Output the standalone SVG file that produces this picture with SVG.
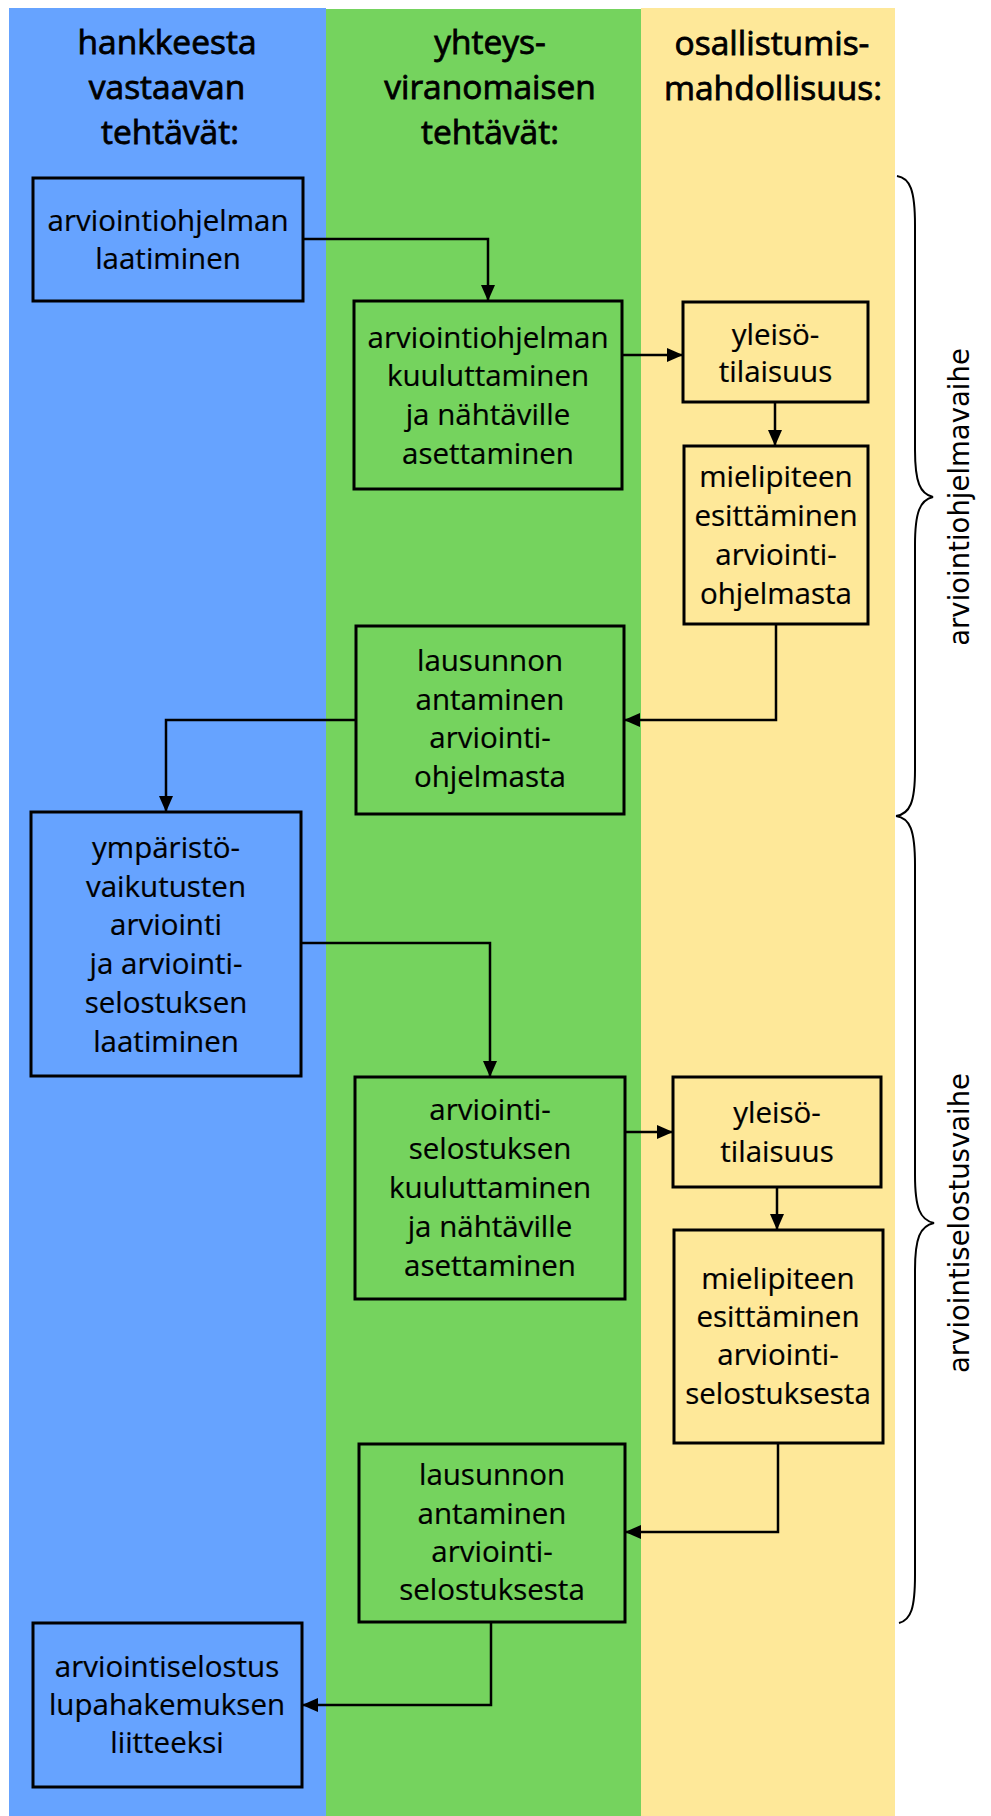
<svg xmlns="http://www.w3.org/2000/svg" width="991" height="1816" viewBox="0 0 991 1816">
<style>
.hdr{font-family:"Open Sans","Liberation Sans",sans-serif;font-size:33.5px;text-anchor:middle;fill:#000;stroke:#000;stroke-width:0.8px}
.t{font-family:"Open Sans","Liberation Sans",sans-serif;font-size:29.5px;text-anchor:middle;fill:#000;stroke:#000;stroke-width:0.2px}
.side{font-family:"DejaVu Sans","Verdana",sans-serif;font-size:27.5px;text-anchor:middle;fill:#000}
.b{fill:#66A3FF;stroke:#000;stroke-width:3}
.g{fill:#75D35E;stroke:#000;stroke-width:3}
.y{fill:#FEE899;stroke:#000;stroke-width:3}
.c{fill:none;stroke:#000;stroke-width:2.5}
.brace{fill:none;stroke:#000;stroke-width:2}
</style>
<defs>
<marker id="ah" markerUnits="userSpaceOnUse" markerWidth="16" markerHeight="14" refX="16" refY="7" orient="auto">
<path d="M0,0 L16,7 L0,14 z" fill="#000"/>
</marker>
</defs>
<rect width="991" height="1816" fill="#fff"/>
<g id="lanes">
<rect x="9" y="8" width="317" height="1808" fill="#66A3FF"/>
<rect x="326" y="9" width="315" height="1807" fill="#75D35E"/>
<rect x="641" y="8" width="254" height="1808" fill="#FEE899"/>
<text class="hdr" x="167" y="54">hankkeesta</text>
<text class="hdr" x="167" y="99">vastaavan</text>
<text class="hdr" x="170" y="144">tehtävät:</text>
<text class="hdr" x="490" y="54">yhteys-</text>
<text class="hdr" x="490" y="99">viranomaisen</text>
<text class="hdr" x="490" y="144">tehtävät:</text>
<text class="hdr" x="772" y="55">osallistumis-</text>
<text class="hdr" x="773" y="100">mahdollisuus:</text>
</g>
<g id="connectors">
<path class="c" d="M303,239 H488 V301" marker-end="url(#ah)"/>
<path class="c" d="M622,355 H683" marker-end="url(#ah)"/>
<path class="c" d="M775,402 V446" marker-end="url(#ah)"/>
<path class="c" d="M776,624 V720 H624" marker-end="url(#ah)"/>
<path class="c" d="M356,720 H166 V812" marker-end="url(#ah)"/>
<path class="c" d="M301,943 H490 V1077" marker-end="url(#ah)"/>
<path class="c" d="M625,1132 H673" marker-end="url(#ah)"/>
<path class="c" d="M777,1187 V1230" marker-end="url(#ah)"/>
<path class="c" d="M778,1443 V1532 H625" marker-end="url(#ah)"/>
<path class="c" d="M491,1622 V1705 H302" marker-end="url(#ah)"/>
</g>
<g id="n1">
<rect class="b" x="33" y="178" width="270" height="123"/>
<text class="t" x="168" y="231">arviointiohjelman</text>
<text class="t" x="168" y="269">laatiminen</text>
</g>
<g id="n2">
<rect class="g" x="354" y="301" width="268" height="188"/>
<text class="t" x="488" y="348">arviointiohjelman</text>
<text class="t" x="488" y="386">kuuluttaminen</text>
<text class="t" x="488" y="425">ja nähtäville</text>
<text class="t" x="488" y="464">asettaminen</text>
</g>
<g id="n3">
<rect class="y" x="683" y="302" width="185" height="100"/>
<text class="t" x="775.5" y="345">yleisö-</text>
<text class="t" x="775.5" y="382">tilaisuus</text>
</g>
<g id="n4">
<rect class="y" x="684" y="446" width="184" height="178"/>
<text class="t" x="776" y="487">mielipiteen</text>
<text class="t" x="776" y="526">esittäminen</text>
<text class="t" x="776" y="565">arviointi-</text>
<text class="t" x="776" y="604">ohjelmasta</text>
</g>
<g id="n5">
<rect class="g" x="356" y="626" width="268" height="188"/>
<text class="t" x="490" y="671">lausunnon</text>
<text class="t" x="490" y="710">antaminen</text>
<text class="t" x="490" y="748">arviointi-</text>
<text class="t" x="490" y="787">ohjelmasta</text>
</g>
<g id="n6">
<rect class="b" x="31" y="812" width="270" height="264"/>
<text class="t" x="166" y="858">ympäristö-</text>
<text class="t" x="166" y="897">vaikutusten</text>
<text class="t" x="166" y="935">arviointi</text>
<text class="t" x="166" y="974">ja arviointi-</text>
<text class="t" x="166" y="1013">selostuksen</text>
<text class="t" x="166" y="1052">laatiminen</text>
</g>
<g id="n7">
<rect class="g" x="355" y="1077" width="270" height="222"/>
<text class="t" x="490" y="1120">arviointi-</text>
<text class="t" x="490" y="1159">selostuksen</text>
<text class="t" x="490" y="1198">kuuluttaminen</text>
<text class="t" x="490" y="1237">ja nähtäville</text>
<text class="t" x="490" y="1276">asettaminen</text>
</g>
<g id="n8">
<rect class="y" x="673" y="1077" width="208" height="110"/>
<text class="t" x="777" y="1123">yleisö-</text>
<text class="t" x="777" y="1162">tilaisuus</text>
</g>
<g id="n9">
<rect class="y" x="674" y="1230" width="209" height="213"/>
<text class="t" x="778" y="1289">mielipiteen</text>
<text class="t" x="778" y="1327">esittäminen</text>
<text class="t" x="778" y="1365">arviointi-</text>
<text class="t" x="778" y="1404">selostuksesta</text>
</g>
<g id="n10">
<rect class="g" x="359" y="1444" width="266" height="178"/>
<text class="t" x="492" y="1485">lausunnon</text>
<text class="t" x="492" y="1524">antaminen</text>
<text class="t" x="492" y="1562">arviointi-</text>
<text class="t" x="492" y="1600">selostuksesta</text>
</g>
<g id="n11">
<rect class="b" x="33" y="1623" width="269" height="164"/>
<text class="t" x="167" y="1677">arviointiselostus</text>
<text class="t" x="167" y="1715">lupahakemuksen</text>
<text class="t" x="167" y="1753">liitteeksi</text>
</g>
<g id="phase1">
<path class="brace" d="M897,176 C910,178 915,190 915,225 L915,450 C915,482 920,494 933,497 C920,500 915,512 915,545 L915,770 C915,802 910,814 896,816"/>
<text class="side" transform="translate(969,497) rotate(-90)">arviointiohjelmavaihe</text>
</g>
<g id="phase2">
<path class="brace" d="M896,816 C910,818 915,830 915,865 L915,1175 C915,1208 920,1220 934,1223 C920,1226 915,1238 915,1270 L915,1575 C915,1608 911,1620 899,1623"/>
<text class="side" transform="translate(969,1223) rotate(-90)">arviointiselostusvaihe</text>
</g>
</svg>
